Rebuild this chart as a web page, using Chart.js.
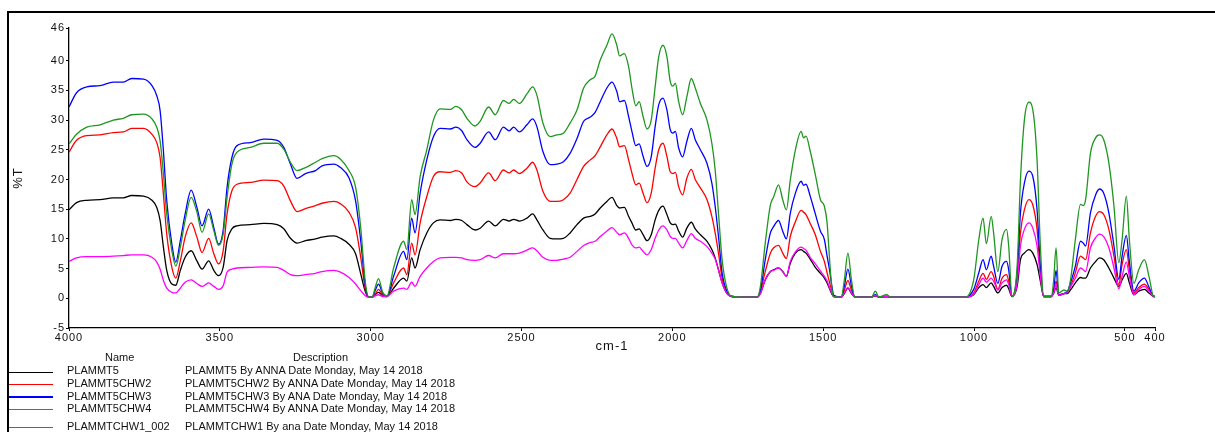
<!DOCTYPE html>
<html><head><meta charset="utf-8">
<script src="https://cdn.jsdelivr.net/npm/chart.js@4.4.1/dist/chart.umd.min.js"></script>
<style>
html,body{margin:0;padding:0;background:#fff;}
#wrap{position:relative;width:1215px;height:432px;overflow:hidden;background:#fff;font-family:"Liberation Sans",Arial,sans-serif;}
#c{position:absolute;left:0;top:0;}
#frame{position:absolute;left:7px;top:11px;width:1300px;height:500px;border-left:2px solid #000;border-top:2px solid #000;pointer-events:none;}
.lg{position:absolute;font-size:11px;line-height:12px;color:#111;white-space:nowrap;}
.sw{position:absolute;left:9px;width:44px;}
</style></head><body>
<div id="wrap"><canvas id="c" width="1215" height="432"></canvas><div id="frame"></div><div id="legend"></div></div>
<script>
// ---------- DATA ----------
const wavenumbers = [4000,3975,3941,3897,3853,3820,3792,3753,3725,3709,
3698,3687,3676,3659,3646,3631,3615,3595,3576,3559,
3537,3520,3504,3489,3476,3460,3443,3399,3354,3310,
3288,3266,3244,3216,3183,3161,3122,3100,3072,3050,
3033,3017,3006,2995,2985,2974,2960,2946,2924,2891,
2880,2864,2853,2836,2814,2792,2770,2736,2718,2698,
2681,2654,2637,2609,2587,2560,2541,2526,2507,2482,
2463,2449,2429,2405,2383,2361,2339,2316,2294,2272,
2256,2239,2217,2200,2184,2175,2159,2145,2134,2121,
2110,2097,2084,2070,2057,2045,2031,2018,2007,1998,
1990,1979,1966,1952,1937,1924,1907,1885,1869,1858,
1847,1835,1819,1802,1760,1719,1708,1692,1675,1664,
1648,1634,1622,1609,1592,1573,1565,1557,1543,1526,
1509,1496,1487,1478,1471,1465,1440,1430,1418,1406,
1395,1340,1327,1315,1290,1275,1100,1028,1001,984,
970,959,943,935,921,907,892,885,874,857,
846,833,818,805,791,780,769,744,736,728,
719,702,690,680,664,647,638,630,614,597,
584,570,553,536,520,509,495,485,470,454,
435,420,404,400];

const plammt5 = [14.9,16.1,16.5,16.6,16.9,16.9,17.3,17.2,16.5,15.3,
13.1,8.6,4.7,2.4,2.2,4.7,6.9,8.0,6.3,4.9,
6.3,4.7,3.8,5.2,9.7,11.7,12.2,12.4,12.6,12.4,
11.7,10.1,9.3,9.7,10.0,10.3,10.5,10.1,9.1,7.5,
4.1,1.0,0.2,0.2,0.6,1.0,0.4,0.3,1.7,3.4,
2.9,6.8,5.1,8.2,11.0,12.7,13.2,13.1,13.3,13.1,
12.4,11.5,11.8,13.0,12.2,13.3,13.0,13.3,13.0,13.5,
14.2,13.2,11.5,10.1,10.0,10.1,11.0,12.4,13.5,13.8,
14.2,15.2,16.3,17.0,15.6,15.2,15.3,13.8,12.7,11.5,
11.7,10.7,9.7,10.7,13.2,14.8,15.5,14.1,12.7,12.4,
12.5,11.3,10.3,11.8,12.8,11.7,10.7,9.6,8.2,6.8,
4.8,2.6,0.8,0.3,0.2,0.2,0.8,3.1,4.5,4.8,
5.1,4.5,3.7,5.9,7.6,8.2,7.9,7.6,6.6,5.2,
4.2,3.4,2.6,1.5,0.7,0.3,0.2,0.8,1.7,0.8,
0.2,0.2,0.4,0.2,0.3,0.2,0.2,0.2,0.6,1.8,
2.3,1.8,2.6,2.0,0.9,1.8,2.2,1.6,0.3,2.0,
6.5,7.6,8.2,7.6,5.7,2.9,0.3,0.3,0.8,1.8,
0.5,0.8,0.8,1.4,2.6,3.5,3.4,3.4,5.1,6.2,
6.8,6.5,5.1,3.4,2.0,3.1,4.2,2.6,0.6,1.2,
1.5,0.9,0.3,0.3];

const plammt5chw2 = [24.6,26.6,27.4,27.5,27.9,28.0,28.6,28.6,27.6,26.2,
23.7,17.5,10.8,5.2,3.4,6.3,10.3,12.7,10.3,7.7,
10.1,7.5,5.8,8.0,14.2,18.1,19.2,19.5,19.9,19.8,
18.9,16.4,14.6,15.1,15.6,16.0,16.3,15.9,14.5,11.9,
6.9,1.3,0.2,0.2,0.7,1.5,0.5,0.3,2.6,5.1,
4.0,9.3,7.3,12.7,17.1,20.5,21.3,21.2,21.5,21.1,
19.6,18.8,19.4,21.1,19.8,21.6,21.1,21.6,21.0,21.9,
22.9,21.6,18.0,16.3,16.3,16.6,17.7,20.0,22.2,23.3,
24.0,25.5,27.5,28.5,26.9,25.5,25.7,23.3,21.1,19.1,
19.4,17.7,16.1,17.7,21.9,25.0,26.1,23.9,21.3,21.0,
21.2,18.8,17.4,20.2,21.7,20.0,18.6,16.6,13.8,11.0,
7.6,3.4,0.9,0.3,0.2,0.2,1.2,4.5,7.6,8.5,
8.9,7.6,6.7,10.4,12.9,14.8,14.5,14.1,12.6,10.7,
7.9,6.2,4.3,2.5,1.2,0.3,0.2,1.3,3.0,1.3,
0.2,0.2,0.5,0.2,0.3,0.2,0.2,0.2,0.9,2.9,
4.2,3.2,4.5,3.7,1.5,3.4,4.0,2.9,0.3,3.2,
11.0,14.9,16.6,15.7,11.6,4.3,0.3,0.3,1.0,2.9,
0.5,0.8,1.0,2.0,4.3,7.1,6.8,6.5,11.0,13.8,
14.6,14.1,11.6,7.1,2.3,5.7,8.2,4.8,0.9,1.8,
2.4,1.5,0.3,0.3];

const plammt5chw3 = [32.2,34.6,35.6,35.8,36.4,36.4,37.0,36.9,35.8,34.1,
31.6,24.8,16.4,9.1,6.1,9.7,14.2,18.2,15.3,12.2,
15.0,11.9,9.1,11.4,18.7,23.7,25.7,26.2,26.8,26.6,
25.4,22.6,20.2,21.0,21.5,22.3,22.6,22.0,20.3,16.4,
9.7,1.8,0.2,0.2,1.3,2.4,0.8,0.3,3.7,7.9,
6.5,13.5,11.0,17.7,23.3,27.2,28.6,28.5,28.8,28.2,
26.7,25.4,26.1,28.0,26.7,28.8,28.2,28.8,28.0,29.2,
30.2,28.9,24.7,22.5,22.6,23.0,24.4,26.9,29.8,30.5,
31.3,33.1,35.4,36.4,34.8,33.1,33.3,30.6,28.1,25.7,
26.0,23.9,22.2,23.8,28.9,32.6,33.7,31.7,28.4,27.8,
28.1,25.3,23.8,26.4,28.6,26.7,25.0,22.7,19.4,15.5,
10.4,4.3,1.2,0.3,0.2,0.2,1.3,6.5,11.0,12.1,
13.1,11.3,10.0,14.3,17.7,19.7,19.0,19.2,17.2,14.2,
11.3,9.9,7.1,4.5,2.0,0.5,0.2,2.0,4.9,2.0,
0.2,0.2,0.6,0.2,0.3,0.2,0.2,0.2,1.5,4.3,
6.5,4.8,7.1,5.4,2.5,5.4,6.2,4.8,0.3,4.3,
14.4,19.4,21.4,20.5,14.9,5.4,0.3,0.3,1.5,4.7,
0.6,0.8,1.2,2.6,5.4,9.6,9.3,8.8,14.4,17.4,
18.4,17.7,14.4,8.8,3.2,7.1,10.6,6.2,1.2,2.6,
3.4,1.9,0.3,0.3];

const plammt5chw4 = [6.2,6.8,7.0,7.0,7.1,7.2,7.3,7.3,6.9,6.1,
4.9,3.0,1.7,1.0,0.9,1.7,2.7,3.1,2.5,2.0,
2.6,2.0,1.5,2.1,4.4,4.9,5.1,5.2,5.3,5.2,
4.7,4.0,3.8,4.0,4.2,4.5,4.7,4.4,3.5,2.4,
1.3,0.4,0.2,0.2,0.4,0.6,0.3,0.3,1.2,1.7,
1.5,2.7,2.0,3.7,5.1,6.2,6.8,6.9,6.9,6.8,
6.5,6.4,6.5,7.2,6.8,7.5,7.5,7.5,7.6,8.1,
8.5,8.0,6.9,6.4,6.4,6.6,6.9,7.9,8.9,9.4,
9.6,10.4,11.3,11.9,11.1,10.7,11.0,10.1,9.0,8.5,
8.6,7.9,7.3,8.2,10.1,11.5,12.2,11.5,10.4,10.1,
10.1,9.3,8.5,9.7,10.9,10.1,9.6,8.7,7.6,6.6,
4.8,2.6,0.8,0.3,0.2,0.2,0.8,3.1,4.5,4.7,
5.1,4.5,3.7,6.2,7.8,8.6,8.4,8.1,6.9,5.8,
4.6,3.7,2.9,1.7,0.8,0.3,0.2,0.9,1.8,0.9,
0.2,0.2,0.5,0.2,0.3,0.2,0.2,0.2,0.7,2.3,
3.4,2.7,3.4,2.9,1.4,2.6,3.1,2.3,0.3,2.5,
8.8,11.6,12.7,11.8,8.8,3.7,0.3,0.3,0.9,2.3,
0.5,0.8,1.0,1.9,3.4,5.1,4.8,4.5,8.5,10.2,
10.8,10.4,8.5,5.1,1.6,3.7,6.1,3.7,0.6,1.5,
2.0,1.2,0.3,0.3];

const plammtchw1_002 = [26.0,27.6,28.8,29.2,30.0,30.3,30.9,31.0,30.2,28.8,
26.5,20.9,14.2,8.0,5.4,8.6,13.1,17.0,14.5,11.1,
14.2,11.4,8.9,10.8,17.0,22.6,24.6,25.4,26.1,26.1,
25.1,22.9,21.5,22.0,22.9,23.5,24.0,23.4,21.5,18.7,
11.9,2.4,0.2,0.2,1.8,3.3,1.0,0.4,5.1,9.6,
8.2,16.6,14.1,20.5,25.0,30.0,31.9,31.8,32.3,31.7,
30.3,29.0,29.8,32.2,30.9,33.3,32.8,33.5,32.8,34.4,
35.6,34.2,29.5,27.2,27.5,27.8,29.5,31.7,35.4,36.8,
37.4,40.1,42.6,44.5,42.6,40.8,41.2,39.0,35.4,32.4,
33.1,30.6,28.5,30.0,35.6,40.7,42.6,40.7,36.5,35.7,
36.2,33.1,30.9,33.9,37.0,35.4,32.8,30.0,26.1,21.6,
14.3,6.5,1.7,0.3,0.2,0.2,2.0,9.3,15.7,17.1,
19.1,16.6,14.9,19.9,25.0,28.1,27.0,27.3,24.8,20.8,
16.6,15.5,12.7,6.0,1.5,0.3,0.2,3.0,7.6,3.0,
0.2,0.2,1.2,0.2,0.6,0.2,0.2,0.2,3.1,9.9,
13.5,9.2,13.8,11.0,4.5,9.9,11.6,8.8,0.3,5.4,
19.9,30.0,33.0,31.7,23.3,8.8,0.3,0.3,3.0,8.5,
0.9,1.4,1.2,3.1,9.9,15.8,15.6,16.6,24.4,27.0,
27.5,26.7,22.8,15.5,6.0,9.9,17.2,9.9,2.5,4.8,
6.5,3.7,0.3,0.3];

const seriesNames = ['PLAMMT5','PLAMMT5CHW2','PLAMMT5CHW3','PLAMMT5CHW4','PLAMMTCHW1_002'];
const seriesDescriptions = [
  'PLAMMT5 By ANNA Date Monday, May 14 2018',
  'PLAMMT5CHW2 By ANNA Date Monday, May 14 2018',
  'PLAMMT5CHW3 By ANA Date Monday, May 14 2018',
  'PLAMMT5CHW4 By ANNA Date Monday, May 14 2018',
  'PLAMMTCHW1 By ana Date Monday, May 14 2018'
];
const xTickValues = [4000,3500,3000,2500,2000,1500,1000,500,400];
const yTickValues = [-5,0,5,10,15,20,25,30,35,40,45.5];
const yTickLabels = ['-5','0','5','10','15','20','25','30','35','40','46'];

// ---------- STYLE ----------
const seriesColors = ['#000000','#ff0000','#0000ff','#ff00ff','#1f961f'];
const seriesValues = [plammt5, plammt5chw2, plammt5chw3, plammt5chw4, plammtchw1_002];
const FONT = '"Liberation Sans", Arial, sans-serif';

const datasets = seriesValues.map((vals, i) => ({
  label: seriesNames[i],
  data: vals.map((v, j) => ({x: wavenumbers[j], y: v})),
  borderColor: seriesColors[i],
  backgroundColor: seriesColors[i],
  borderWidth: 1.3,
  pointRadius: 0,
  fill: false,
  tension: 0.4,
  cubicInterpolationMode: 'monotone',
  order: seriesValues.length - 1 - i
}));

const spacingPlugin = {
  id: 'spacing',
  beforeDraw(chart) { chart.ctx.letterSpacing = '1px'; },
  afterDraw(chart) { chart.ctx.letterSpacing = '0px'; }
};

new Chart(document.getElementById('c'), {
  type: 'line',
  data: { datasets },
  plugins: [spacingPlugin],
  options: {
    responsive: false,
    animation: false,
    devicePixelRatio: 1,
    layout: { padding: { left: 0, top: 28, right: 60, bottom: 78 } },
    plugins: { legend: { display: false }, tooltip: { enabled: false } },
    scales: {
      x: {
        type: 'linear', min: 400, max: 4000, reverse: true, position: 'bottom',
        afterBuildTicks: s => { s.ticks = xTickValues.map(v => ({value: v})); },
        afterFit: s => { s.height = 26; },
        ticks: { color: '#111', font: { family: FONT, size: 11 }, padding: 0, maxRotation: 0, autoSkip: false,
                 callback: v => String(v) },
        grid: { display: true, drawOnChartArea: false, drawTicks: true, tickLength: 3, color: '#000', lineWidth: 1 },
        border: { display: true, color: '#000', width: 1.3 },
        title: { display: true, text: 'cm-1', color: '#111', font: { family: FONT, size: 13 }, padding: { top: 0, bottom: 0 } }
      },
      y: {
        type: 'linear', min: -5, max: 45.5, position: 'left',
        afterBuildTicks: s => { s.ticks = yTickValues.map(v => ({value: v})); },
        afterFit: s => { s.width = 69; },
        ticks: { color: '#111', font: { family: FONT, size: 11 }, padding: 1, autoSkip: false,
                 callback: (v, i) => yTickLabels[i] },
        grid: { display: true, drawOnChartArea: false, drawTicks: true, tickLength: 3, color: '#000', lineWidth: 1 },
        border: { display: true, color: '#000', width: 1.3 },
        title: { display: true, text: '%T', color: '#111', font: { family: FONT, size: 13 }, padding: { top: 11, bottom: 0 } }
      }
    }
  }
});

// ---------- LEGEND TABLE (HTML) ----------
const legend = document.getElementById('legend');
const rowTextCenters = [370.3, 383, 395.7, 408, 425.5];
const rowLineY = [372, 384, 396.5, 409, 427.5];
function addText(txt, left, centerY) {
  const d = document.createElement('div');
  d.className = 'lg';
  d.textContent = txt;
  d.style.left = left + 'px';
  d.style.top = (centerY - 6) + 'px';
  legend.appendChild(d);
}
addText('Name', 105, 357.3);
addText('Description', 293, 357.3);
seriesNames.forEach((n, i) => {
  const sw = document.createElement('div');
  sw.className = 'sw';
  const h = i === 2 ? 2 : 1;
  sw.style.top = Math.round(rowLineY[i] - h / 2) + 'px';
  sw.style.height = h + 'px';
  sw.style.background = seriesColors[i];
  legend.appendChild(sw);
  addText(n, 67, rowTextCenters[i]);
  addText(seriesDescriptions[i], 185, rowTextCenters[i]);
});
</script>
</body></html>
